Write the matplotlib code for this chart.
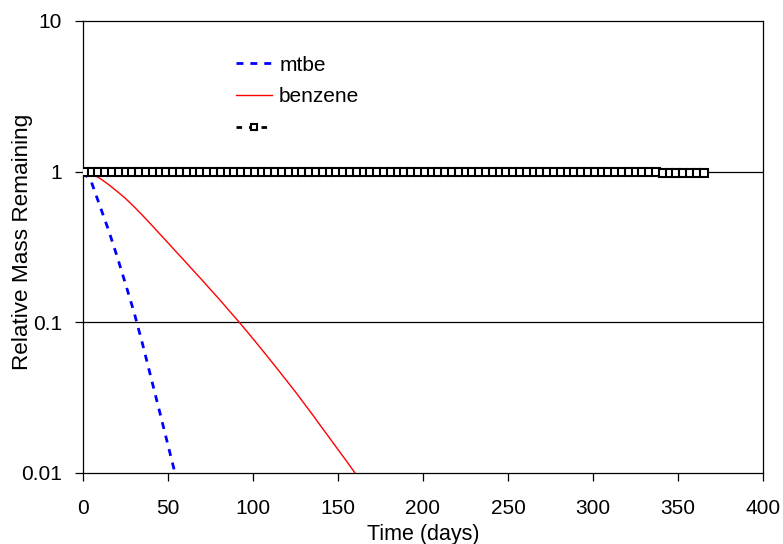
import matplotlib
matplotlib.use("Agg")
import matplotlib.pyplot as plt
from matplotlib.ticker import FixedLocator, FixedFormatter, NullLocator

plt.rcParams['font.family'] = ['Liberation Sans', 'DejaVu Sans']

# mtbe (blue dashed)
mtbe_days = [0, 5, 10, 15, 20, 25, 30, 35, 40, 45, 50, 55]
mtbe_mass = [1.0, 0.85, 0.59, 0.41, 0.275, 0.18, 0.117, 0.072, 0.043, 0.0257, 0.0153, 0.0091]

# benzene (red solid)
benz_days = [0, 5, 10, 15, 20, 25, 30, 35, 40, 45, 50, 55, 60, 65, 70, 75, 80,
             85, 90, 95, 100, 105, 110, 115, 120, 125, 130, 135, 140, 145, 150,
             155, 160, 163]
benz_mass = [1.0, 0.973, 0.902, 0.822, 0.741, 0.664, 0.586, 0.513, 0.447, 0.388,
             0.337, 0.292, 0.254, 0.220, 0.191, 0.165, 0.143, 0.123, 0.106, 0.0910,
             0.0778, 0.0664, 0.0565, 0.0480, 0.0407, 0.0345, 0.0290, 0.0244, 0.0204,
             0.0171, 0.0143, 0.0120, 0.0100, 0.0090]

# third series (black dashed, square markers), every 4 days
ctrl_days = list(range(1, 366, 4))
ctrl_mass = [1.0, 1.0, 1.0, 1.0, 1.0, 1.0, 1.0, 1.0, 1.0, 1.0,
             1.0, 1.0, 1.0, 1.0, 1.0, 1.0, 1.0, 1.0, 1.0, 1.0,
             1.0, 1.0, 1.0,
             0.995, 0.995, 0.995, 0.995, 0.995, 0.995, 0.995, 0.995, 0.995, 0.995,
             0.995, 0.995, 0.995, 0.995, 0.995, 0.995, 0.995, 0.995, 0.995, 0.995,
             0.99, 0.99, 0.99, 0.99, 0.99, 0.99, 0.99, 0.99, 0.99, 0.99,
             0.99, 0.99, 0.99, 0.99, 0.99, 0.99, 0.99, 0.99, 0.99, 0.99,
             0.99, 0.99, 0.99, 0.99, 0.99, 0.99, 0.99, 0.99, 0.99, 0.99,
             0.99, 0.99, 0.99, 0.99, 0.99, 0.99, 0.99, 0.99, 0.99, 0.99,
             0.99, 0.99,
             0.985, 0.985, 0.985, 0.985, 0.985, 0.985, 0.985]

y_ticks = [0.01, 0.1, 1, 10]
y_labels = ['0.01', '0.1', '1', '10']
x_ticks = [0, 50, 100, 150, 200, 250, 300, 350, 400]

fig = plt.figure(figsize=(7.83, 5.44), dpi=100)
ax = fig.add_axes([83 / 783, 1 - 473 / 544, 680 / 783, 452 / 544])

ax.set_yscale('log')
ax.set_xlim(0, 400)
ax.set_ylim(0.01, 10)

# horizontal gridlines at 1 and 0.1
for g in [0.1, 1]:
    ax.axhline(g, color='black', lw=0.9, zorder=1)

l1, = ax.plot(mtbe_days, mtbe_mass, color='#0000ff', lw=2, linestyle=(0, (2.5, 2.5)), zorder=3)
l2, = ax.plot(benz_days, benz_mass, color='#ff0000', lw=1.0, zorder=3)
l3, = ax.plot(ctrl_days, ctrl_mass, color='black', lw=2, linestyle=(0, (2, 2.5)),
              marker='s', markersize=6, markerfacecolor='white',
              markeredgecolor='black', markeredgewidth=1.5, zorder=4)

ax.yaxis.set_major_locator(FixedLocator(y_ticks))
ax.yaxis.set_major_formatter(FixedFormatter(y_labels))
ax.yaxis.set_minor_locator(NullLocator())
ax.set_xticks(x_ticks)

ax.tick_params(direction='out', length=6, width=0.9, labelsize=15)
ax.tick_params(axis='y', pad=9)
ax.tick_params(axis='x', pad=13)
for s in ax.spines.values():
    s.set_linewidth(0.9)

ax.set_xlabel('Time (days)', fontsize=15.5, va='top')
ax.xaxis.set_label_coords(0.5, -0.113)
ax.set_ylabel('Relative Mass Remaining', fontsize=16.2)
ax.yaxis.set_label_coords(-0.0735, 0.511)

leg = ax.legend([l1, l2, l3], ['mtbe', 'benzene', ' '], loc='upper left',
                bbox_to_anchor=(0.198, 0.965), frameon=False, fontsize=15,
                handlelength=1.7, handletextpad=0.35, labelspacing=0.62,
                markerscale=0.8)

fig.savefig('out.png', dpi=100)
